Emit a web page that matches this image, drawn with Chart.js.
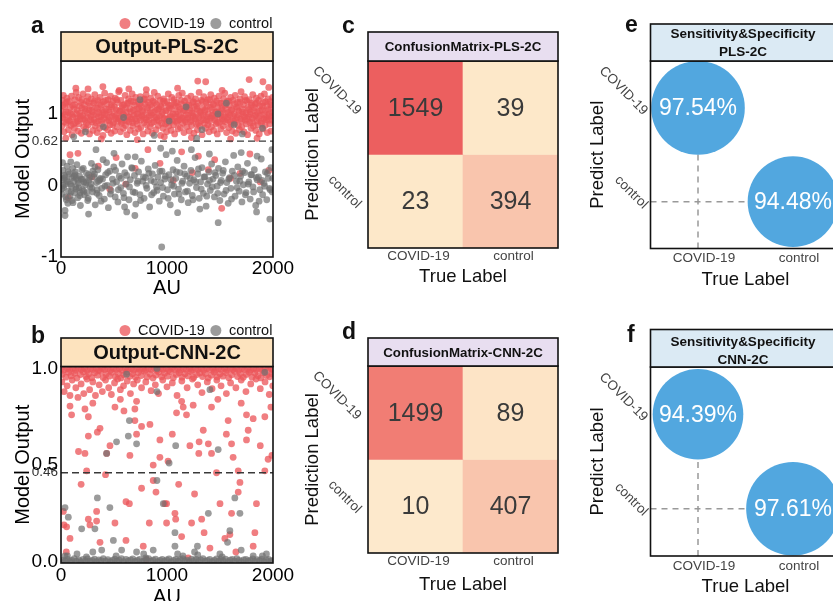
<!DOCTYPE html>
<html>
<head>
<meta charset="utf-8">
<script src="https://cdn.jsdelivr.net/npm/chart.js@4.4.0/dist/chart.umd.min.js"></script>
<style>
  html, body { margin: 0; padding: 0; background: #fff; width: 833px; height: 601px; overflow: hidden; }
  .panel { position: absolute; }
  canvas { display: block; }
</style>
</head>
<body>
<div class="panel" style="left:0;top:0"><canvas id="pa" width="300" height="300"></canvas></div>
<div class="panel" style="left:0;top:300px"><canvas id="pb" width="300" height="310"></canvas></div>
<div class="panel" style="left:290px;top:0"><canvas id="pc" width="280" height="300"></canvas></div>
<div class="panel" style="left:290px;top:300px"><canvas id="pd" width="280" height="301"></canvas></div>
<div class="panel" style="left:580px;top:0"><canvas id="pe" width="270" height="300"></canvas></div>
<div class="panel" style="left:580px;top:300px"><canvas id="pf" width="270" height="301"></canvas></div>
<script>
// ---- data ----
const classLabels = ['COVID-19', 'control'];
const auTicks = [0, 1000, 2000];
const plsTicks = [-1, 0, 0.62, 1];
const cnnTicks = [0, 0.46, 0.5, 1];
const plsThreshold = 0.62;
const cnnThreshold = 0.46;

// panel a, PLS model output per sample (AU index, output)
const plsCovid = [
  [3,1.04],[8,0.83],[13,1.19],[17,0.95],[22,1.26],[28,0.75],[33,1.1],[38,0.99],[44,1.15],[49,0.87],
  [55,1.22],[60,0.92],[66,1.02],[71,0.78],[77,1.17],[82,0.9],[88,1.0],[93,0.84],[99,1.25],[104,0.71],
  [110,1.12],[115,0.96],[121,1.07],[126,0.8],[132,1.2],[137,0.88],[143,1.3],[148,0.94],[154,1.05],[159,0.76],
  [165,1.23],[170,0.86],[176,1.01],[181,0.93],[187,1.16],[192,0.73],[198,1.08],
  [203,0.98],[209,1.28],[214,0.82],[220,1.13],[225,0.91],[231,1.04],[236,0.79],[242,1.18],[247,0.95],
  [253,1.24],[258,0.85],[264,1.06],[269,0.72],[275,1.11],[280,0.97],[286,1.21],[291,0.89],[297,1.03],[302,0.77],
  [308,1.15],[313,0.92],[319,1.27],[324,0.83],[330,1.09],[335,1.0],[341,0.74],[346,1.19],[352,0.9],[357,1.02],
  [363,0.8],[368,1.23],[374,0.96],[379,1.12],[385,0.86],[390,1.05],[396,0.7],
  [401,1.17],[407,0.94],[412,1.29],[418,0.81],[423,1.07],[429,0.99],[434,1.14],[440,0.78],[445,1.2],[451,0.91],
  [456,1.03],[462,0.85],[467,1.25],[473,0.73],[478,1.1],[484,0.97],[489,1.18],[495,0.88],[500,1.01],[506,0.76],
  [511,1.22],[517,0.93],[522,1.06],[528,0.82],[533,1.16],[539,0.9],[544,1.31],[550,0.95],[555,1.04],[561,0.75],
  [566,1.19],[572,0.87],[577,1.09],[583,1.0],[588,0.8],[594,1.13],
  [599,0.92],[605,1.26],[610,0.84],[616,1.02],[621,0.71],[627,1.15],[632,0.96],[638,1.21],[643,0.89],[649,1.07],
  [654,0.77],[660,1.18],[665,0.93],[671,1.28],[676,0.83],[682,1.05],[687,0.98],[693,1.12],[698,0.74],[704,1.23],
  [709,0.9],[715,1.0],[720,0.86],[726,1.17],[731,0.79],[737,1.08],[742,0.95],[748,1.24],[753,0.81],[759,1.11],
  [764,0.97],[770,1.03],[775,0.72],[781,1.2],[786,0.88],[792,1.14],[797,0.94],
  [803,1.27],[808,0.85],[814,1.06],[819,0.76],[825,1.16],[830,0.91],[836,1.01],[841,0.82],[847,1.22],[852,0.99],
  [858,1.09],[863,0.73],[869,1.18],[874,0.89],[880,1.3],[885,0.95],[891,1.04],[896,0.78],[902,1.13],[907,0.92],
  [913,1.25],[918,0.84],[924,1.07],[929,0.97],[935,1.19],[940,0.7],[946,1.1],[951,0.87],[957,1.02],[962,0.8],
  [968,1.21],[973,0.94],[979,1.15],[984,0.86],[990,1.05],[995,0.75],
  [1001,1.17],[1006,0.93],[1012,1.28],[1017,0.83],[1023,1.08],[1028,0.98],[1034,1.12],[1039,0.77],[1045,1.23],[1050,0.9],
  [1056,1.0],[1061,0.85],[1067,1.2],[1072,0.72],[1078,1.11],[1083,0.96],[1089,1.16],[1094,0.88],[1100,1.03],[1105,0.79],
  [1111,1.26],[1116,0.92],[1122,1.06],[1127,0.81],[1133,1.14],[1138,0.95],[1144,1.29],[1149,0.87],[1155,1.04],[1160,0.74],
  [1166,1.18],[1171,0.91],[1177,1.09],[1182,0.99],[1188,0.82],[1193,1.22],[1199,0.94],
  [1204,1.13],[1210,0.76],[1215,1.05],[1221,0.89],[1226,1.25],[1232,0.84],[1237,1.01],[1243,0.97],[1248,1.17],[1254,0.73],
  [1259,1.1],[1265,0.93],[1270,1.21],[1276,0.86],[1281,1.07],[1287,0.78],[1292,1.15],[1298,0.95],[1303,1.3],[1309,0.83],
  [1314,1.02],[1320,0.9],[1325,1.19],[1331,0.71],[1336,1.08],[1342,0.98],[1347,1.24],[1353,0.87],[1358,1.04],[1364,0.8],
  [1369,1.16],[1375,0.92],[1380,1.11],[1386,0.85],[1391,1.0],[1397,0.75],
  [1402,1.2],[1408,0.94],[1413,1.27],[1419,0.82],[1424,1.06],[1430,0.97],[1435,1.14],[1441,0.77],[1446,1.22],[1452,0.91],
  [1457,1.03],[1463,0.86],[1468,1.18],[1474,0.72],[1479,1.09],[1485,0.99],[1490,1.25],[1496,0.88],[1501,1.01],[1507,0.79],
  [1512,1.15],[1518,0.93],[1523,1.05],[1529,0.83],[1534,1.21],[1540,0.96],[1545,1.29],[1551,0.89],[1556,1.08],[1562,0.74],
  [1567,1.17],[1573,0.92],[1578,1.02],[1584,0.81],[1589,1.12],[1595,0.98],
  [1600,1.23],[1606,0.85],[1611,1.06],[1617,0.76],[1622,1.19],[1628,0.9],[1633,1.0],[1639,0.87],[1644,1.26],[1650,0.73],
  [1655,1.1],[1661,0.95],[1666,1.16],[1672,0.84],[1677,1.04],[1683,0.78],[1688,1.21],[1694,0.93],[1699,1.31],[1705,0.82],
  [1710,1.07],[1716,0.99],[1721,1.13],[1727,0.75],[1732,1.24],[1738,0.91],[1743,1.01],[1749,0.86],[1754,1.18],[1760,0.71],
  [1765,1.09],[1771,0.96],[1776,1.2],[1782,0.88],[1787,1.03],[1793,0.8],[1798,1.15],
  [1804,0.94],[1809,1.27],[1815,0.83],[1820,1.05],[1826,0.97],[1831,1.14],[1837,0.77],[1842,1.22],[1848,0.9],[1853,1.02],
  [1859,0.85],[1864,1.19],[1870,0.72],[1875,1.11],[1881,0.98],[1886,1.25],[1892,0.87],[1897,1.06],[1903,0.79],[1908,1.16],
  [1914,0.93],[1919,1.28],[1925,0.84],[1930,1.04],[1936,0.95],[1941,1.12],[1947,0.74],[1952,1.21],[1958,0.91],[1963,1.0],
  [1969,0.86],[1974,1.17],[1980,0.76],[1985,1.08],[1991,0.97],[1996,1.23],
  [6,0.97],[19,1.12],[31,0.89],[47,1.03],[58,1.17],[74,0.91],[86,1.09],[102,0.99],[118,0.86],[130,1.13],
  [146,1.0],[157,0.9],[172,1.11],[185,0.97],[197,1.2],[212,0.93],[224,1.07],[239,0.87],[251,1.01],[262,1.16],
  [278,0.92],[289,1.05],[305,0.98],[317,1.18],[329,0.88],[343,1.08],[355,0.96],[371,1.14],[383,0.91],[394,1.02],
  [410,0.99],[421,1.19],[437,0.9],[449,1.06],[460,0.95],[476,1.13],[488,0.85],[503,1.1],[515,0.97],[526,1.2],
  [542,0.94],[553,1.04],[569,0.89],[581,1.12],[592,0.99],[608,1.08],[619,0.9],[635,1.15],[647,0.96],[658,1.03],
  [674,0.88],[685,1.17],[701,0.93],[713,1.07],[724,1.0],[740,1.14],[751,0.91],[767,1.05],[779,0.98],[790,1.21],
  [806,0.92],[817,1.09],[833,0.97],[845,1.13],[856,0.87],[872,1.02],[883,1.16],[899,0.95],[911,1.06],[922,0.9],
  [938,1.11],[949,0.99],[965,1.18],[977,0.93],[988,1.04],[1004,0.88],[1015,1.12],[1031,0.96],[1043,1.07],[1054,0.92],
  [1070,1.15],[1081,1.0],[1097,0.9],[1109,1.1],[1120,0.97],[1136,1.19],[1147,0.94],[1163,1.05],[1175,0.89],[1186,1.13],
  [1202,0.98],[1213,1.08],[1229,0.91],[1241,1.16],[1252,1.01],[1268,0.95],[1279,1.11],[1295,0.87],[1307,1.04],[1318,0.99],
  [1334,1.17],[1345,0.92],[1361,1.06],[1373,0.96],[1384,1.2],[1400,0.9],[1411,1.09],[1427,0.98],[1439,1.13],[1450,0.94],
  [1466,1.03],[1477,0.88],[1493,1.15],[1505,0.97],[1516,1.07],[1532,0.91],[1543,1.12],[1559,1.0],[1571,0.95],[1582,1.18],
  [1598,0.89],[1609,1.05],[1625,0.97],[1637,1.14],[1648,0.92],[1664,1.08],[1675,0.99],[1691,1.16],[1703,0.9],[1714,1.03],
  [1730,0.96],[1741,1.19],[1757,0.93],[1769,1.06],[1780,1.0],[1796,1.12],[1807,0.88],[1823,1.09],[1835,0.98],[1846,1.15],
  [1862,0.94],[1873,1.04],[1889,0.9],[1901,1.11],[1912,0.99],[1928,1.17],[1939,0.92],[1955,1.06],[1967,0.97],[1978,1.13],
  [1994,0.91],[1999,1.02],
  [140,1.36],[395,1.38],[640,1.35],[805,1.34],[1290,1.46],[1365,1.45],[1520,1.33],[1775,1.48],[1905,1.45],[1960,1.37],
  [550,1.33],[1100,1.36],[255,1.35],[45,0.66],[380,0.65],[720,0.64],[1230,0.67],[1600,0.65],[1850,0.66],[975,0.68],
  [85,0.43],[160,0.45],[69,-0.17],[352,0.27],[290,0.12],[520,0.39],[610,0.02],[700,0.24],[934,0.31],[1059,0.07],
  [1138,0.47],[1240,0.18],[1296,0.41],[1390,0.22],[1516,-0.32],[1689,0.17],[1782,0.44],[1960,0.21],[1880,0.05],[460,-0.05],
  [820,0.5],[1600,0.1],[1450,0.36]
];
const plsControl = [
  [5,0.08],[12,-0.12],[18,0.21],[25,-0.03],[31,0.14],[38,-0.35],[44,0.02],[50,-0.2],[57,0.27],[63,0.05],
  [70,-0.08],[78,0.16],[85,-0.15],[92,0.33],[99,-0.01],[106,0.11],[113,-0.24],[120,0.06],[128,-0.1],[135,0.19],
  [142,-0.05],[150,0.29],[158,-0.17],[166,0.03],[175,0.13],[183,-0.28],[192,0.09],[201,-0.06],[210,0.24],[220,-0.13],
  [230,0.01],[241,0.17],[252,-0.21],[263,0.07],[275,-0.02],[287,0.31],[299,-0.09],[311,0.12],[323,-0.27],[335,0.04],
  [348,0.22],[360,-0.14],[372,0.1],[384,-0.04],[397,0.36],[409,-0.19],[421,0.15],[434,0.0],[447,-0.31],[460,0.2],
  [472,-0.07],[485,0.09],[498,0.26],[511,-0.16],[524,0.05],[537,-0.23],[550,0.13],[563,-0.03],[576,0.3],[589,-0.11],
  [602,0.18],[615,0.02],[628,0.4],[641,-0.2],[654,0.08],[667,0.25],[680,-0.09],[693,0.14],[706,-0.26],[719,0.03],
  [732,0.19],[745,-0.13],[758,0.34],[771,0.06],[784,-0.18],[797,0.11],[810,-0.04],[823,0.23],[836,-0.3],[849,0.07],
  [862,0.16],[875,-0.1],[888,0.28],[901,-0.02],[914,0.12],[927,-0.22],[940,0.04],[953,0.2],[966,-0.15],[979,0.09],
  [992,0.43],[1005,-0.06],[1018,0.15],[1031,-0.27],[1044,0.01],[1057,0.22],[1070,-0.12],[1083,0.1],[1096,0.35],[1109,-0.05],
  [1122,0.18],[1135,-0.2],[1148,0.06],[1161,0.27],[1174,-0.09],[1187,0.13],[1200,-0.24],[1213,0.03],[1226,0.21],[1239,-0.14],
  [1252,0.08],[1265,0.39],[1278,-0.03],[1291,0.16],[1304,-0.18],[1317,0.05],[1330,0.25],[1343,-0.11],[1356,0.12],[1369,-0.29],
  [1382,0.02],[1395,0.19],[1408,-0.07],[1421,0.3],[1434,0.09],[1447,-0.16],[1460,0.14],[1473,-0.01],[1486,0.24],[1499,-0.21],
  [1512,0.07],[1525,0.17],[1538,-0.12],[1551,0.33],[1564,0.04],[1577,-0.25],[1590,0.11],[1603,-0.04],[1616,0.2],[1629,0.42],
  [1642,-0.15],[1655,0.06],[1668,0.26],[1681,-0.08],[1694,0.13],[1707,-0.23],[1720,0.01],[1733,0.18],[1746,-0.1],[1759,0.31],
  [1772,0.05],[1785,-0.19],[1798,0.15],[1811,-0.02],[1824,0.22],[1837,-0.28],[1850,0.08],[1863,0.12],[1876,-0.06],[1889,0.37],
  [1902,-0.13],[1915,0.03],[1928,0.19],[1941,-0.2],[1954,0.1],[1967,-0.04],[1980,0.25],[1993,-0.09],
  [9,-0.05],[27,0.1],[46,-0.16],[68,0.19],[88,0.02],[104,-0.21],[124,0.13],[139,-0.02],[161,0.07],[178,-0.14],
  [196,0.22],[214,-0.08],[235,0.04],[257,-0.18],[270,0.11],[292,-0.04],[316,0.16],[339,-0.11],[355,0.06],[378,-0.22],
  [392,0.09],[415,-0.01],[440,0.18],[466,-0.12],[490,0.03],[515,0.21],[541,-0.06],[568,0.1],[594,-0.17],[620,0.14],
  [646,-0.02],[672,0.24],[698,-0.1],[724,0.06],[751,-0.21],[777,0.12],[803,0.0],[829,0.17],[855,-0.13],[881,0.05],
  [907,-0.07],[933,0.2],[959,-0.03],[985,0.13],[1011,-0.18],[1037,0.08],[1063,-0.01],[1089,0.19],[1115,-0.12],[1141,0.03],
  [1167,0.16],[1193,-0.08],[1219,0.1],[1245,-0.2],[1271,0.05],[1297,0.23],[1323,-0.05],[1349,0.12],[1375,-0.15],[1401,0.07],
  [1427,-0.02],[1453,0.18],[1479,-0.11],[1505,0.04],[1531,0.21],[1557,-0.07],[1583,0.09],[1609,-0.19],[1635,0.14],[1661,-0.03],
  [1687,0.06],[1713,0.2],[1739,-0.13],[1765,0.02],[1791,0.15],[1817,-0.09],[1843,0.11],[1869,-0.22],[1895,0.07],[1921,-0.01],
  [1947,0.17],[1973,-0.06],[1997,0.1],
  [20,0.0],[55,0.07],[95,-0.09],[132,0.15],[170,-0.03],[205,0.09],[245,-0.1],[283,0.02],[320,0.26],[365,0.08],
  [15,0.32],[40,0.12],[65,-0.25],[110,0.24],[145,0.1],[180,-0.1],[215,0.05],[260,0.15],[300,0.2],[340,-0.06],
  [430,0.32],[600,-0.3],[700,0.4],[500,0.45],[1050,0.48],[1230,0.5],[1400,0.44],[1700,0.46],[1850,0.41],[940,0.52],
  [330,0.5],[1990,0.5],
  [950,-0.86],[1483,-0.52],[1970,-0.47],[38,-0.42],[697,-0.42],[1310,-0.33],[1845,-0.37],[620,-0.37],[260,-0.4],[1100,-0.38],
  [745,1.2],[400,0.82],[1633,0.85],[230,0.75],[590,0.95],[880,0.7],[1020,0.9],[1180,1.1],[1330,0.78],[1480,1.0],
  [1710,0.72],[1900,0.8],[1560,1.15],[120,0.68],[1280,0.66]
];

// panel b, CNN model output per sample
const cnnCovid = [
  [0,1],[26,0.99],[57,1],[81,0.995],[112,1],[136,0.99],[168,1],[191,0.995],[223,1],[246,0.99],
  [277,1],[301,0.995],[333,1],[356,0.99],[388,1],[411,0.995],[442,1],[466,0.99],[497,1],[521,0.995],
  [553,1],[576,0.99],[607,1],[631,0.995],[663,1],[686,0.99],[717,1],[741,0.995],[773,1],[796,0.99],
  [827,1],[851,0.995],[883,1],[906,0.99],[937,1],[961,0.995],[993,1],[1016,0.99],[1047,1],[1071,0.995],
  [1103,1],[1126,0.99],[1157,1],[1181,0.995],[1213,1],[1236,0.99],[1267,1],[1291,0.995],[1323,1],[1346,0.99],
  [1377,1],[1401,0.995],[1433,1],[1456,0.99],[1487,1],[1511,0.995],[1543,1],[1566,0.99],[1597,1],[1621,0.995],
  [1653,1],[1676,0.99],[1707,1],[1731,0.995],[1763,1],[1786,0.99],[1817,1],[1841,0.995],[1873,1],[1896,0.99],
  [1927,1],[1951,0.995],[1982,1],[2000,0.99],
  [12,0.97],[47,0.955],[70,0.98],[95,0.962],[128,0.975],[150,0.95],[182,0.968],[210,0.983],[236,0.958],[262,0.972],
  [290,0.952],[318,0.978],[345,0.965],[372,0.985],[398,0.953],[425,0.97],[455,0.96],[480,0.98],[512,0.957],[540,0.974],
  [565,0.951],[592,0.967],[620,0.982],[648,0.959],[675,0.973],[702,0.954],[730,0.979],[757,0.963],[785,0.985],[812,0.956],
  [840,0.971],[868,0.95],[895,0.966],[922,0.981],[950,0.957],[978,0.975],[1005,0.96],[1032,0.983],[1060,0.952],[1088,0.969],
  [1115,0.978],[1142,0.955],[1170,0.972],[1198,0.961],[1225,0.984],[1252,0.953],[1280,0.968],[1308,0.977],[1335,0.958],[1362,0.974],
  [1390,0.95],[1418,0.965],[1445,0.982],[1472,0.956],[1500,0.971],[1528,0.96],[1555,0.979],[1582,0.952],[1610,0.967],[1638,0.985],
  [1665,0.958],[1692,0.973],[1720,0.954],[1748,0.969],[1775,0.98],[1802,0.955],[1830,0.976],[1858,0.962],[1885,0.951],[1912,0.978],
  [1940,0.964],[1968,0.957],[1992,0.972],
  [8,0.93],[30,0.88],[58,0.91],[85,0.86],[105,0.94],[140,0.9],[160,0.85],[190,0.92],[215,0.87],[245,0.945],
  [270,0.89],[300,0.93],[325,0.86],[360,0.915],[390,0.88],[420,0.94],[450,0.9],[475,0.865],[505,0.925],[535,0.945],
  [560,0.89],[590,0.91],[625,0.935],[655,0.87],[685,0.92],[720,0.94],[760,0.9],[800,0.93],[850,0.885],[890,0.915],
  [920,0.87],[960,0.94],[1000,0.905],[1050,0.925],[1095,0.86],[1140,0.935],[1190,0.9],[1240,0.945],[1290,0.915],[1330,0.875],
  [1380,0.93],[1425,0.895],[1470,0.94],[1510,0.91],[1560,0.87],[1600,0.925],[1650,0.9],[1700,0.94],[1745,0.88],[1790,0.92],
  [1840,0.945],[1880,0.895],[1925,0.93],[1965,0.865],[1998,0.91],
  [85,0.805],[226,0.79],[258,0.75],[343,0.67],[258,0.65],[165,0.57],[226,0.56],[242,0.47],[431,0.56],[509,0.8],
  [594,0.78],[697,0.79],[713,0.66],[760,0.7],[697,0.73],[839,0.71],[933,0.54],[870,0.5],[870,0.42],[896,0.36],
  [833,0.2],[996,0.3],[996,0.2],[1075,0.25],[1082,0.22],[1138,0.83],[1153,0.8],[1184,0.76],[1090,0.77],[1247,0.81],
  [1216,0.6],[1303,0.62],[1300,0.56],[1342,0.68],[1420,0.8],[1390,0.61],[1420,0.56],[1467,0.46],[1577,0.73],[1609,0.61],
  [1624,0.54],[1672,0.47],[1688,0.41],[1672,0.36],[1609,0.25],[1593,0.14],[1750,0.76],[1766,0.68],[1750,0.63],[1813,0.74],
  [1923,0.75],[1954,0.53],[1923,0.47],[1844,0.3],[1829,0.15],[1813,0.08],[28,0.19],[53,0.18],[85,0.12],[258,0.22],
  [273,0.19],[336,0.21],[336,0.26],[368,0.1],[509,0.2],[613,0.31],[645,0.3],[613,0.11],[776,0.08],[980,0.3],
  [1138,0.13],[1232,0.2],[1327,0.22],[1405,0.07],[1546,0.12],[22,0.26],[807,0.01],[1200,0.02],[100,0.76],[368,0.69],
  [462,0.6],[713,0.83],[933,0.63],[1010,0.52],[560,0.84],[300,0.82],[1480,0.84],[1700,0.82],[1980,0.8],[420,0.45],
  [650,0.55],[1110,0.4],[1260,0.35],[1500,0.3],[1880,0.6],[190,0.4],[760,0.38],[1350,0.15],[1650,0.05],[50,0.05],
  [1050,0.66],[1560,0.66],[1990,0.55]
];
const cnnControl = [
  [3,0],[22,0.008],[41,0.002],[63,0.012],[84,0],[101,0.006],[125,0.015],[146,0.003],[168,0.009],[187,0],
  [209,0.011],[231,0.004],[250,0.014],[273,0.001],[294,0.007],[316,0.013],[335,0],[357,0.009],[378,0.005],[399,0.016],
  [421,0.002],[442,0.01],[463,0],[485,0.006],[506,0.013],[527,0.003],[549,0.008],[570,0.015],[591,0],[613,0.011],
  [634,0.004],[656,0.009],[677,0.014],[698,0.001],[720,0.007],[741,0.012],[762,0],[784,0.005],[805,0.01],[827,0.016],
  [848,0.002],[869,0.008],[891,0.013],[912,0],[933,0.006],[955,0.011],[976,0.003],[997,0.009],[1019,0.014],[1040,0],
  [1061,0.007],[1083,0.012],[1104,0.002],[1125,0.01],[1147,0.015],[1168,0.004],[1189,0.008],[1211,0],[1232,0.013],[1253,0.005],
  [1275,0.011],[1296,0.001],[1317,0.009],[1339,0.016],[1360,0.003],[1381,0.007],[1403,0.012],[1424,0],[1445,0.006],[1467,0.014],
  [1488,0.002],[1509,0.01],[1531,0.005],[1552,0.013],[1573,0],[1595,0.008],[1616,0.011],[1637,0.003],[1659,0.015],[1680,0.006],
  [1701,0],[1723,0.009],[1744,0.012],[1765,0.004],[1787,0.007],[1808,0.014],[1829,0.001],[1851,0.01],[1872,0.005],[1893,0.013],
  [1915,0],[1936,0.008],[1957,0.011],[1979,0.003],[1998,0.006],
  [60,0.03],[240,0.025],[520,0.03],[800,0.02],[1150,0.03],[1290,0.035],[1520,0.025],[1900,0.03],
  [619,0.97],[905,1.0],[1923,0.98],[905,0.88],[1405,0.89],[645,0.73],[524,0.62],[635,0.65],[713,0.61],[1082,0.6],
  [1483,0.58],[1020,0.51],[905,0.42],[430,0.56],[343,0.33],[38,0.28],[69,0.23],[195,0.17],[320,0.17],[461,0.28],
  [965,0.3],[1390,0.25],[1593,0.16],[1688,0.25],[1640,0.33],[1075,0.15],[1075,0.08],[713,0.05],[870,0.06],[494,0.11],
  [384,0.06],[572,0.06],[1287,0.08],[1499,0.04],[1571,0.1],[1813,0.03],[1938,0.04],[151,0.04],[38,0.03],[1700,0.06],
  [1260,0.05],[1100,0.04],[300,0.05],[780,0.04]
];

// panels c, d: rows = predicted, columns = true
const plsMatrix = [[1549, 39], [23, 394]];
const cnnMatrix = [[1499, 89], [10, 407]];
// panels e, f: sensitivity, specificity (%)
const plsRates = [97.54, 94.48];
const cnnRates = [94.39, 97.61];

// ---- styles ----
const FONT = '"Liberation Sans", Arial, Helvetica, sans-serif';
const RED = 'rgba(235, 86, 90, 0.76)';
const GRAY = 'rgba(112, 112, 112, 0.7)';
const BLUE = '#52a7df';
const plsCellColors = [['#ec5f5f', '#fde8c9'], ['#fde8c9', '#f9c5ad']];
const cnnCellColors = [['#f17d74', '#fde4c6'], ['#fde9cc', '#f9c5ad']];

Chart.defaults.font.family = FONT;
Chart.defaults.color = '#111';
Chart.defaults.animation = false;
Chart.defaults.events = [];
Chart.defaults.layout.autoPadding = false;
Chart.defaults.plugins.legend.display = false;
Chart.defaults.plugins.tooltip.enabled = false;

// frame, header strip, panel letter, legend and cell texts
const decor = {
  id: 'decor',
  afterDatasetsDraw(chart) {
    const ctx = chart.ctx;
    chart.data.datasets.forEach((ds, i) => {
      if (!ds.cellText) return;
      ctx.save();
      ctx.font = ds.cellFont;
      ctx.fillStyle = ds.cellColor;
      ctx.textAlign = 'center';
      ctx.textBaseline = 'middle';
      chart.getDatasetMeta(i).data.forEach((el, j) => {
        const p = el.getCenterPoint();
        ctx.fillText(ds.cellText[j], p.x, p.y + 1);
      });
      ctx.restore();
    });
  },
  afterDraw(chart, args, o) {
    if (!o || !o.letter) return;
    const { ctx, chartArea: a } = chart;
    ctx.save();
    ctx.lineWidth = 1.6;
    ctx.strokeStyle = '#111';
    ctx.strokeRect(a.left, a.top, a.right - a.left, a.bottom - a.top);

    const h = o.header;
    ctx.fillStyle = h.fill;
    ctx.fillRect(a.left, h.top, a.right - a.left, a.top - h.top);
    ctx.strokeRect(a.left, h.top, a.right - a.left, a.top - h.top);
    ctx.fillStyle = '#111';
    ctx.font = `bold ${h.size}px ${FONT}`;
    ctx.textAlign = 'center';
    ctx.textBaseline = 'middle';
    const cx = h.cx !== undefined ? h.cx : (a.left + a.right) / 2;
    h.lines.forEach((t, i) => ctx.fillText(t, cx, h.lineY[i]));

    ctx.font = `bold 23px ${FONT}`;
    ctx.textAlign = 'left';
    ctx.textBaseline = 'alphabetic';
    ctx.fillText(o.letter[0], o.letter[1], o.letter[2]);

    if (o.legend) {
      ctx.font = `14.5px ${FONT}`;
      ctx.textBaseline = 'middle';
      let x = o.legend.x;
      chart.data.datasets.filter(d => d.inLegend).forEach(d => {
        ctx.fillStyle = d.backgroundColor;
        ctx.beginPath();
        ctx.arc(x, o.legend.y, 5.5, 0, Math.PI * 2);
        ctx.fill();
        x += 13;
        ctx.fillStyle = '#111';
        ctx.fillText(d.label, x, o.legend.y + 0.5);
        x += ctx.measureText(d.label).width + 11;
      });
    }
    ctx.restore();
  }
};
Chart.register(decor);

const toXY = pts => pts.map(([x, y]) => ({ x, y }));
const fixedTicks = vals => s => { s.ticks = vals.map(v => ({ value: v })); };
const noGrid = { display: false, drawTicks: false };

function scatterPanel(id, g) {
  new Chart(document.getElementById(id), {
    type: 'scatter',
    data: {
      datasets: [
        { label: classLabels[0], data: toXY(g.covid), backgroundColor: RED, borderWidth: 0, pointRadius: 3.4, order: 2, inLegend: true },
        { label: classLabels[1], data: toXY(g.control), backgroundColor: GRAY, borderWidth: 0, pointRadius: 3.4, order: 1, inLegend: true },
        {
          type: 'line', label: 'threshold',
          data: [{ x: auTicks[0], y: g.threshold }, { x: auTicks[auTicks.length - 1], y: g.threshold }],
          borderColor: '#3a3a3a', borderWidth: 1.4, borderDash: [7, 4], pointRadius: 0, order: 0
        }
      ]
    },
    options: {
      responsive: false,
      layout: { padding: g.pad },
      scales: {
        x: {
          type: 'linear', min: auTicks[0], max: auTicks[auTicks.length - 1],
          afterBuildTicks: fixedTicks(auTicks),
          grid: noGrid, border: { display: false },
          ticks: { font: { size: 19 }, color: '#000', padding: g.xTickPad, maxRotation: 0, callback: v => String(v) },
          title: { display: true, text: 'AU', font: { size: 20 }, color: '#000', padding: { top: 0, bottom: g.xTitlePad } },
          afterFit: s => { s.height = g.xH; }
        },
        y: {
          type: 'linear', min: g.yMin, max: g.yMax,
          afterBuildTicks: fixedTicks(g.ticks),
          grid: noGrid, border: { display: false },
          ticks: {
            padding: 3,
            font: c => ({ size: c.tick && c.tick.value === g.threshold ? 13.5 : 19 }),
            color: c => (c.tick && c.tick.value === g.threshold ? '#333' : '#000'),
            callback: g.fmt
          },
          title: { display: true, text: 'Model Output', font: { size: 20 }, color: '#000', padding: { top: 11, bottom: 0 } },
          afterFit: s => { s.width = 61; }
        }
      },
      plugins: {
        decor: {
          letter: g.letter,
          header: { fill: '#fde3be', top: g.headTop, size: 20, lines: [g.title], lineY: [g.headY] },
          legend: { x: 125, y: g.legendY }
        }
      }
    }
  });
}

function matrixPanel(id, g) {
  const datasets = classLabels.map((rowLabel, r) => {
    const base = classLabels.length - 1 - r;
    return {
      label: rowLabel,
      data: classLabels.map(() => [base, base + 1]),
      backgroundColor: g.colors[r],
      borderWidth: 0, barPercentage: 1, categoryPercentage: 1, grouped: false,
      cellText: g.counts[r].map(String), cellFont: `25px ${FONT}`, cellColor: '#3a3a3a'
    };
  });
  new Chart(document.getElementById(id), {
    type: 'bar',
    data: { labels: classLabels, datasets },
    options: {
      responsive: false,
      layout: { padding: g.pad },
      scales: {
        x: {
          type: 'category', offset: true, grid: noGrid, border: { display: false },
          ticks: { font: { size: 13.5 }, color: '#444', padding: 0, labelOffset: 3, maxRotation: 0 },
          title: { display: true, text: 'True Label', font: { size: 18.5 }, color: '#111', padding: { top: 0, bottom: g.xTitlePad } },
          afterFit: s => { s.height = g.xH; }
        },
        y: {
          type: 'linear', min: 0, max: classLabels.length,
          afterBuildTicks: fixedTicks([0.5, 1.5]),
          grid: noGrid, border: { display: false },
          ticks: { font: { size: 13.5 }, color: '#444', padding: 9, labelOffset: 5, minRotation: -45, maxRotation: -45,
                   callback: v => classLabels[classLabels.length - 1 - Math.floor(v)] },
          title: { display: true, text: 'Prediction Label', font: { size: 18.5 }, color: '#111', padding: { top: 12, bottom: 0 } },
          afterFit: s => { s.width = 78; }
        }
      },
      plugins: {
        decor: {
          letter: g.letter,
          header: { fill: '#e8def0', top: g.headTop, size: 13.3, lines: [g.title], lineY: [g.headY] }
        }
      }
    }
  });
}

function ratePanel(id, g) {
  const lo = -0.5, hi = classLabels.length - 0.5;
  const guide = { type: 'line', borderColor: '#999', borderWidth: 1.5, borderDash: [6, 5], pointRadius: 0, order: 2 };
  new Chart(document.getElementById(id), {
    type: 'bubble',
    data: {
      datasets: [
        Object.assign({ label: 'v', data: [{ x: 0, y: hi }, { x: 0, y: 0 }] }, guide),
        Object.assign({ label: 'h', data: [{ x: lo, y: 1 }, { x: 1, y: 1 }] }, guide),
        {
          label: 'rates',
          data: g.rates.map((v, i) => ({ x: i, y: i })),
          backgroundColor: BLUE, borderWidth: 0, order: 1,
          radius: c => g.rates[c.dataIndex] * 0.48,
          cellText: g.rates.map(v => v.toFixed(2) + '%'), cellFont: `23px ${FONT}`, cellColor: '#fff'
        }
      ]
    },
    options: {
      responsive: false,
      layout: { padding: g.pad },
      scales: {
        x: {
          type: 'linear', min: lo, max: hi,
          afterBuildTicks: fixedTicks([0, 1]),
          grid: noGrid, border: { display: false },
          ticks: { font: { size: 13.5 }, color: '#444', padding: 2, labelOffset: 6, maxRotation: 0, callback: v => classLabels[v] },
          title: { display: true, text: 'True Label', font: { size: 18.5 }, color: '#111', padding: { top: 0, bottom: g.xTitlePad } },
          afterFit: s => { s.height = g.xH; }
        },
        y: {
          type: 'linear', min: lo, max: hi, reverse: true,
          afterBuildTicks: fixedTicks([0, 1]),
          grid: noGrid, border: { display: false },
          ticks: { font: { size: 13.5 }, color: '#444', padding: 5, labelOffset: 5, minRotation: -45, maxRotation: -45, callback: v => classLabels[v] },
          title: { display: true, text: 'Predict Label', font: { size: 18.5 }, color: '#111', padding: { top: 7, bottom: 0 } },
          afterFit: s => { s.width = 70.5; }
        }
      },
      plugins: {
        decor: {
          letter: g.letter,
          header: { fill: '#dbeaf4', top: g.headTop, size: 13.5, cx: 163, lines: ['Sensitivity&Specificity', g.title], lineY: g.headY }
        }
      }
    }
  });
}

scatterPanel('pa', {
  covid: plsCovid, control: plsControl, threshold: plsThreshold, ticks: plsTicks,
  yMin: -1, yMax: 1.74, fmt: v => String(v),
  pad: { top: 61, right: 27, left: 0, bottom: 0 }, xH: 43, xTickPad: 0, xTitlePad: 0,
  letter: ['a', 31, 33], title: 'Output-PLS-2C', headTop: 32, headY: 47.5, legendY: 23.5
});
scatterPanel('pb', {
  covid: cnnCovid, control: cnnControl, threshold: cnnThreshold, ticks: cnnTicks,
  yMin: -0.007, yMax: 1.01, fmt: v => (v === cnnThreshold ? String(v) : v.toFixed(1)),
  pad: { top: 66.5, right: 27, left: 0, bottom: 0 }, xH: 47, xTickPad: 1, xTitlePad: 1,
  letter: ['b', 31, 43], title: 'Output-CNN-2C', headTop: 38, headY: 53, legendY: 30.5
});
matrixPanel('pc', {
  counts: plsMatrix, colors: plsCellColors,
  pad: { top: 61, right: 12, left: 0, bottom: 0 }, xH: 52, xTitlePad: 12,
  letter: ['c', 52, 33], title: 'ConfusionMatrix-PLS-2C', headTop: 32, headY: 47
});
matrixPanel('pd', {
  counts: cnnMatrix, colors: cnnCellColors,
  pad: { top: 66, right: 12, left: 0, bottom: 0 }, xH: 48, xTitlePad: 5,
  letter: ['d', 52, 39], title: 'ConfusionMatrix-CNN-2C', headTop: 38, headY: 53
});
ratePanel('pe', {
  rates: plsRates,
  pad: { top: 61, right: 9.5, left: 0, bottom: 0 }, xH: 51.5, xTitlePad: 9,
  letter: ['e', 45, 32], title: 'PLS-2C', headTop: 24, headY: [34, 52.5]
});
ratePanel('pf', {
  rates: cnnRates,
  pad: { top: 67, right: 9.5, left: 0, bottom: 0 }, xH: 45, xTitlePad: 3,
  letter: ['f', 47, 42], title: 'CNN-2C', headTop: 29.5, headY: [42, 60.5]
});
</script>
</body>
</html>
